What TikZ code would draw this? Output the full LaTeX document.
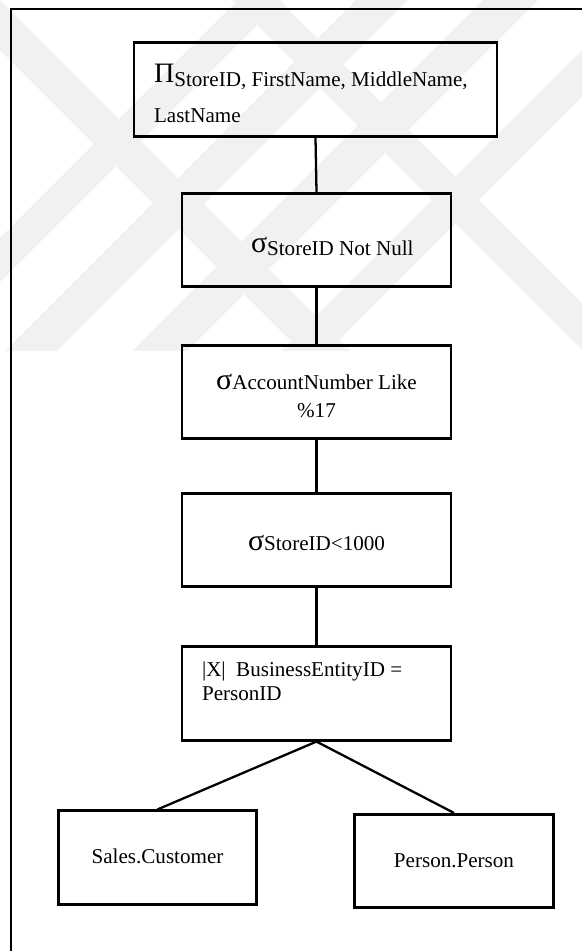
\documentclass[tikz,border=0pt]{standalone}
\usepackage{fontspec}
\setmainfont{Liberation Serif}
\usepackage{tikz}
\usetikzlibrary{positioning}
\definecolor{markgray}{RGB}{241,241,241}

\begin{document}
\begin{tikzpicture}[
  every node/.style={font=\fontsize{12}{13.7}\selectfont},
  opbox/.style={draw, line width=1.5pt, minimum width=5.38cm,
                minimum height=1.87cm, inner sep=0pt},
  leafbox/.style={opbox, minimum width=3.97cm},
  optext/.style={inner sep=0pt, align=left, anchor=base west},
  optextc/.style={inner sep=0pt, align=center, anchor=base},
  link/.style={line width=1.3pt},
  wmark/.style={fill=markgray, draw=none},
]
\useasboundingbox (0,0) rectangle (11.64,-19.02);

%% -- background stripes (pixel units) ----------------------------------
\begin{scope}[x=0.02cm, y=-0.02cm]
  \clip (0,0) rectangle (582,350);
  \foreach \a/\b in {238/282, 356/408, 483/538, 632/679}
    \fill[wmark] (\a,0) -- (\b,0) -- ({\b-400},400) -- ({\a-400},400) -- cycle;
  \foreach \a/\b in {-50/0, 232/279}
    \fill[wmark] (\a,0) -- (\b,0) -- ({\b+400},400) -- ({\a+400},400) -- cycle;
\end{scope}

%% -- frame -------------------------------------------------------------
\draw[line width=0.9pt] (11.64,-0.18) -- (0.22,-0.18) -- (0.22,-19.02);

%% -- operator boxes ----------------------------------------------------
\node[opbox, minimum width=7.26cm] (proj) at (6.31,-1.79) {};
\node[opbox] (notnull) at (6.33,-4.80)  {};
\node[opbox] (like)    at (6.33,-7.84)  {};
\node[opbox] (lt)      at (6.33,-10.80) {};
\node[opbox] (join)    at (6.33,-13.87) {};
\node[leafbox] (cust)  at (3.15,-17.15) {};
\node[leafbox] (pers)  at (9.08,-17.22) {};

%% -- box texts (base = last line) --------------------------------------
\node[optext] (projtxt) at ([shift={(0.42,-1.62)}]proj.north west)
  {{\fontsize{16}{16}\selectfont Π}\raisebox{-2.3pt}{StoreID, FirstName, MiddleName,}\\[9.1pt]LastName};
\node[optext] (notnulltxt) at ([shift={(1.40,-1.22)}]notnull.north west)
  {{\fontsize{17}{17}\selectfont σ}\raisebox{-1.7pt}{StoreID Not Null}};
\node[optextc] (liketxt) at ([yshift=-1.48cm]like.north)
  {{\fontsize{17}{17}\selectfont σ}AccountNumber Like\\[2.2pt]\%17};
\node[optextc] (lttxt) at ([yshift=-1.18cm]lt.north)
  {{\fontsize{17}{17}\selectfont σ}StoreID<1000};
\node[optext] (jointxt) at ([shift={(0.42,-1.10)}]join.north west)
  {|X|\ \ BusinessEntityID =\\PersonID};
\node[optextc] (custtxt) at ([yshift=-1.08cm]cust.north) {Sales.Customer};
\node[optextc] (perstxt) at ([yshift=-1.10cm]pers.north) {Person.Person};

%% -- tree edges --------------------------------------------------------
\draw[link] (proj.south) -- (notnull.north);
\draw[link] (notnull.south) -- (like.north);
\draw[link] (like.south) -- (lt.north);
\draw[link] (lt.south) -- (join.north);
\draw[link] (join.south) -- (cust.north);
\draw[link] (join.south) -- (pers.north);

\end{tikzpicture}
\end{document}
